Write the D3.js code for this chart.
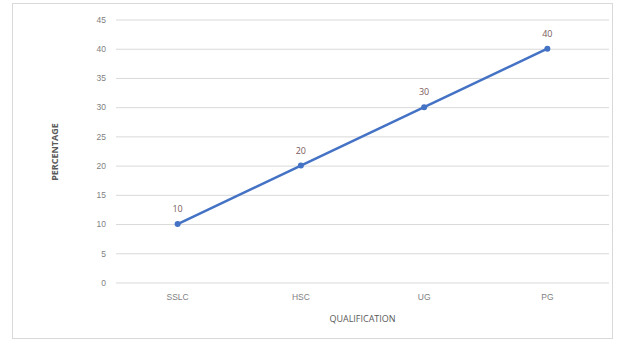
<!DOCTYPE html>
<html>
<head>
<meta charset="utf-8">
<script src="https://cdn.jsdelivr.net/npm/d3@7"></script>
<style>
  html, body { margin: 0; padding: 0; background: #fff; }
  svg { display: block; font-family: "Open Sans", "Liberation Sans", sans-serif; }
</style>
</head>
<body>
<svg id="chart" width="621" height="342"></svg>
<script>
// Qualification levels and their percentages
const categories = ["SSLC", "HSC", "UG", "PG"];
const percentages = [10, 20, 30, 40];
const yTicks = [0, 5, 10, 15, 20, 25, 30, 35, 40, 45];

const svg = d3.select("#chart");
const plot = { left: 116, right: 609, top: 19.5, bottom: 282.5 };

// Outer chart-area border
svg.append("rect")
  .attr("x", 12.5).attr("y", 3.5)
  .attr("width", 600).attr("height", 335)
  .attr("fill", "#fff")
  .attr("stroke", "#d9d9d9")
  .attr("stroke-width", 1);

const x = d3.scaleBand().domain(categories).range([plot.left, plot.right]).padding(0);
const y = d3.scaleLinear().domain([0, 45]).range([plot.bottom, plot.top]);

// Horizontal gridlines with value labels
const yAxis = d3.axisLeft(y)
  .tickValues(yTicks)
  .tickSize(-(plot.right - plot.left))
  .tickPadding(10)
  .tickFormat(d3.format("d"));

const gy = svg.append("g")
  .attr("transform", `translate(${plot.left},0)`)
  .call(yAxis);
gy.select(".domain").remove();
gy.selectAll(".tick line").attr("stroke", "#d9d9d9").attr("stroke-width", 1);
gy.selectAll(".tick text")
  .attr("fill", "#7f7f7f")
  .attr("font-size", 8.5);

// Category axis (labels only)
const xAxis = d3.axisBottom(x).tickSize(0).tickPadding(11);
const gx = svg.append("g")
  .attr("transform", `translate(0,${plot.bottom})`)
  .call(xAxis);
gx.select(".domain").remove();
gx.selectAll(".tick text")
  .attr("fill", "#7f7f7f")
  .attr("font-size", 8.5);

// Axis titles
svg.append("text")
  .attr("x", (plot.left + plot.right) / 2)
  .attr("y", 322)
  .attr("text-anchor", "middle")
  .attr("fill", "#595959")
  .attr("font-size", 9)
  .text("QUALIFICATION");

svg.append("text")
  .attr("transform", `translate(58,${(plot.top + plot.bottom) / 2 + 1}) rotate(-90)`)
  .attr("text-anchor", "middle")
  .attr("fill", "#595959")
  .attr("font-size", 9)
  .attr("font-weight", "bold")
  .text("PERCENTAGE");

// Data series
const data = categories.map((c, i) => ({ cat: c, value: percentages[i] }));
const cx = d => x(d.cat) + x.bandwidth() / 2;

const line = d3.line().x(cx).y(d => y(d.value));

svg.append("path")
  .datum(data)
  .attr("d", line)
  .attr("fill", "none")
  .attr("stroke", "#4472c4")
  .attr("stroke-width", 2.5)
  .attr("stroke-linecap", "round");

svg.selectAll("circle.pt")
  .data(data)
  .join("circle")
  .attr("class", "pt")
  .attr("cx", cx)
  .attr("cy", d => y(d.value))
  .attr("r", 3)
  .attr("fill", "#4472c4");

// Value labels above each point
svg.selectAll("text.val")
  .data(data)
  .join("text")
  .attr("class", "val")
  .attr("x", cx)
  .attr("y", d => y(d.value) - 12)
  .attr("text-anchor", "middle")
  .attr("fill", "#7b5b5b")
  .attr("font-size", 9)
  .text(d => d.value);
</script>
</body>
</html>
